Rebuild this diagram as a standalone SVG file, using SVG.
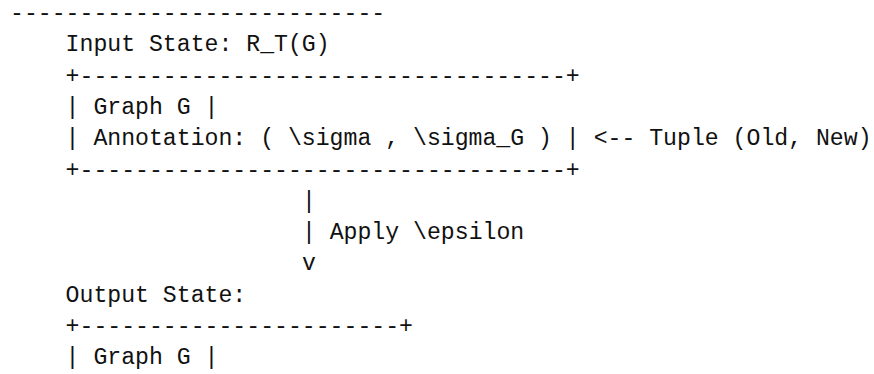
<svg xmlns="http://www.w3.org/2000/svg" width="874" height="374" viewBox="0 0 874 374">
  <style>
    text { font-family: "Liberation Mono", "DejaVu Sans Mono", monospace; font-size: 23.17px; fill: #111; white-space: pre; }
  </style>
  <rect width="874" height="374" fill="#ffffff"/>
  <g id="rule">
    <text x="10" y="20">---------------------------</text>
  </g>
  <g id="input-state">
    <text x="65.6" y="51.3">Input State: R_T(G)</text>
    <text x="65.6" y="82.6">+-----------------------------------+</text>
    <text x="65.6" y="113.9">| Graph G |</text>
    <text x="65.6" y="145.2">| Annotation: ( \sigma , \sigma_G ) | &lt;-- Tuple (Old, New)</text>
    <text x="65.6" y="176.5">+-----------------------------------+</text>
  </g>
  <g id="connectors">
    <text x="301.9" y="207.8">|</text>
    <text x="301.9" y="239.1">| Apply \epsilon</text>
    <text x="301.9" y="270.4">v</text>
  </g>
  <g id="output-state">
    <text x="65.6" y="301.7">Output State:</text>
    <text x="65.6" y="333">+-----------------------+</text>
    <text x="65.6" y="364.3">| Graph G |</text>
  </g>
</svg>
